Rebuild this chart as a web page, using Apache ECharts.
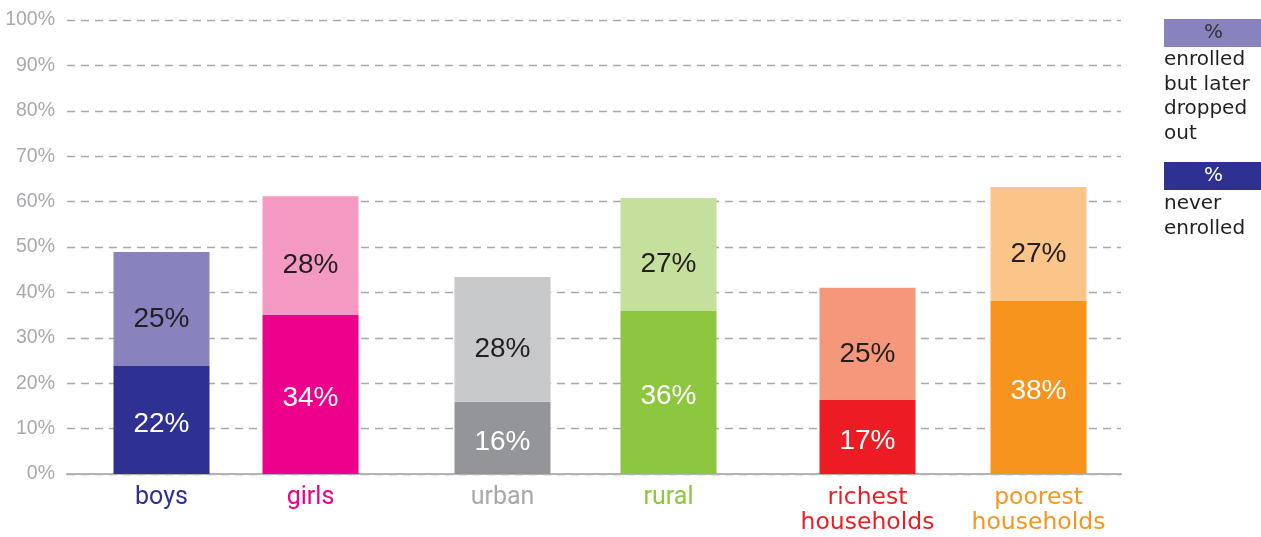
<!DOCTYPE html>
<html>
<head>
<meta charset="utf-8">
<script src="https://cdn.jsdelivr.net/npm/echarts@6/dist/echarts.min.js"></script>
<style>
  html, body { margin: 0; padding: 0; background: #fff; }
  #chart { width: 1261px; height: 537px; }
</style>
</head>
<body>
<div id="chart"></div>
<script>
var categories = ['boys', 'girls', 'urban', 'rural', 'richest\nhouseholds', 'poorest\nhouseholds'];
// bar heights as drawn (percent)
var neverEnrolled = [23.8, 35.0, 15.9, 35.9, 16.3, 38.1];
var droppedOut = [25.1, 26.2, 27.5, 24.9, 24.7, 25.1];
// printed values
var neverLabels = ['22%', '34%', '16%', '36%', '17%', '38%'];
var droppedLabels = ['25%', '28%', '28%', '27%', '25%', '27%'];

var darkColors = ['#2e3192', '#ec008c', '#939598', '#8dc63f', '#ed1c24', '#f7941e'];
var lightColors = ['#8882be', '#f49ac2', '#c7c8ca', '#c5df9c', '#f5977a', '#fbc589'];
var nameColors = ['#2e3192', '#ec008c', '#a7a9ac', '#8dc63f', '#ed1c24', '#f7941e'];

var myChart = echarts.init(document.getElementById('chart'));

// three pairs of bars, each pair in its own grid so the spacing follows the original
var pairGrids = [
  { left: 87, right: 876 },
  { left: 419.5, right: 509.5 },
  { left: 782, right: 137 }
];

var grids = [{ left: 67, right: 140, top: 20, bottom: 63 }];
var xAxes = [{
  gridIndex: 0,
  type: 'category',
  data: [''],
  axisLine: { lineStyle: { color: '#b3b3b3', width: 2 } },
  axisTick: { show: false },
  axisLabel: { show: false }
}];
var yAxes = [{
  gridIndex: 0,
  type: 'value',
  min: 0,
  max: 100,
  interval: 10,
  axisLine: { show: false },
  axisTick: { show: false },
  axisLabel: {
    formatter: '{value}%',
    color: '#a7a9ac',
    fontSize: 19.5,
    fontFamily: 'Liberation Sans',
    margin: 12
  },
  splitLine: {
    lineStyle: { color: '#a7a9ac', width: 1.3, type: [8, 6] }
  }
}];
var series = [];

pairGrids.forEach(function (pg, g) {
  var idx = [2 * g, 2 * g + 1];
  grids.push({ left: pg.left, right: pg.right, top: 20, bottom: 63 });
  xAxes.push({
    gridIndex: g + 1,
    type: 'category',
    data: idx.map(function (i) { return categories[i]; }),
    axisLine: { show: false },
    axisTick: { show: false },
    axisLabel: {
      interval: 0,
      hideOverlap: false,
      margin: 11,
      fontSize: g === 2 ? 23.5 : 25,
      fontFamily: g === 2 ? 'DejaVu Sans' : 'Roboto',
      lineHeight: 25,
      color: function (value, index) { return nameColors[idx[index]]; }
    }
  });
  yAxes.push({ gridIndex: g + 1, type: 'value', min: 0, max: 100, show: false });

  series.push({
    type: 'bar',
    stack: 'pair' + g,
    xAxisIndex: g + 1,
    yAxisIndex: g + 1,
    barWidth: 96,
    data: idx.map(function (i) {
      return { value: neverEnrolled[i], itemStyle: { color: darkColors[i] } };
    }),
    label: {
      show: true,
      position: 'inside',
      offset: [0, 4],
      color: '#ffffff',
      fontSize: 28,
      fontFamily: 'Liberation Sans',
      formatter: function (p) { return neverLabels[idx[p.dataIndex]]; }
    }
  });
  series.push({
    type: 'bar',
    stack: 'pair' + g,
    xAxisIndex: g + 1,
    yAxisIndex: g + 1,
    barWidth: 96,
    data: idx.map(function (i) {
      return { value: droppedOut[i], itemStyle: { color: lightColors[i] } };
    }),
    label: {
      show: true,
      position: 'inside',
      offset: [0, 10],
      color: '#231f20',
      fontSize: 28,
      fontFamily: 'Liberation Sans',
      formatter: function (p) { return droppedLabels[idx[p.dataIndex]]; }
    }
  });
});

myChart.setOption({
  animation: false,
  grid: grids,
  xAxis: xAxes,
  yAxis: yAxes,
  series: series,
  graphic: [
    {
      type: 'rect',
      left: 1164, top: 19,
      shape: { width: 97, height: 28 },
      style: { fill: '#8882be' }
    },
    {
      type: 'text',
      left: 1204, top: 23,
      style: { text: '%', fill: '#333333', font: '20px "DejaVu Sans"' }
    },
    {
      type: 'text',
      left: 1164, top: 48,
      style: {
        text: 'enrolled\nbut later\ndropped\nout',
        fill: '#231f20',
        font: '20px "DejaVu Sans"',
        lineHeight: 24.5
      }
    },
    {
      type: 'rect',
      left: 1164, top: 162,
      shape: { width: 97, height: 28 },
      style: { fill: '#2e3192' }
    },
    {
      type: 'text',
      left: 1204, top: 166,
      style: { text: '%', fill: '#ffffff', font: '20px "DejaVu Sans"' }
    },
    {
      type: 'text',
      left: 1164, top: 192,
      style: {
        text: 'never\nenrolled',
        fill: '#231f20',
        font: '20px "DejaVu Sans"',
        lineHeight: 24.5
      }
    }
  ]
});
</script>
</body>
</html>
